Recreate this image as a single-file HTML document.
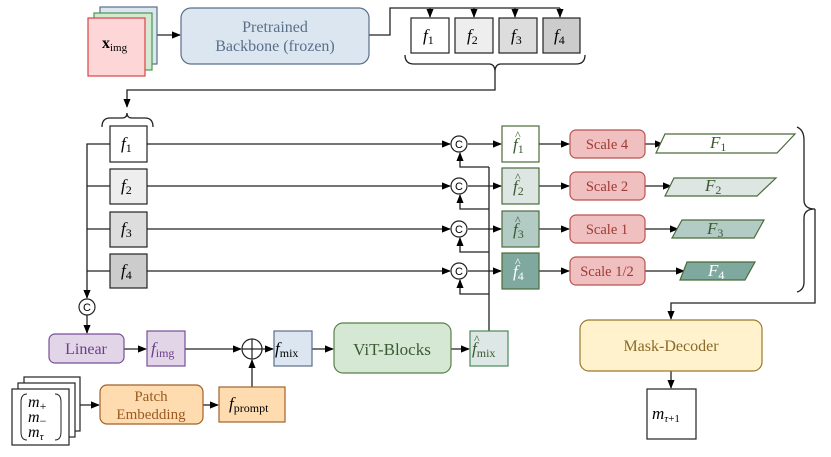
<!DOCTYPE html>
<html><head><meta charset="utf-8"><style>
body{margin:0;background:#fff}
svg{display:block}
svg text{font-family:"Liberation Serif","DejaVu Serif",serif}
svg text.s{font-family:"Liberation Sans",sans-serif}
.i{font-style:italic}
</style></head><body>
<svg width="831" height="457" viewBox="0 0 831 457" xmlns="http://www.w3.org/2000/svg" font-family="Liberation Serif, serif">
<defs>
<marker id="a" viewBox="0 0 10 10" refX="9" refY="5" markerWidth="7" markerHeight="7" orient="auto-start-reverse"><path d="M0,1L10,5L0,9z" fill="#000"/></marker>
</defs>
<g fill="none" stroke="#222" stroke-width="1.3">
<line x1="157" y1="35" x2="180" y2="35" marker-end="url(#a)"/>
<polyline points="369,35 390,35 390,8 560,8"/>
<line x1="430" y1="8" x2="430" y2="17" marker-end="url(#a)"/>
<line x1="474" y1="8" x2="474" y2="17" marker-end="url(#a)"/>
<line x1="515" y1="8" x2="515" y2="17" marker-end="url(#a)"/>
<line x1="560" y1="8" x2="560" y2="17" marker-end="url(#a)"/>
<path d="M405,55 Q405,64 414,64 L489,64 Q495,64 495,72 Q495,64 501,64 L576,64 Q585,64 585,55"/>
<polyline points="495,72 495,90 127,90 127,107" marker-end="url(#a)"/>
<path d="M102,127 Q102,118 110,118 L122,118 Q127,118 127,113 Q127,118 132,118 L145,118 Q153,118 153,127"/>
<polyline points="110,144 87,144 87,298" marker-end="url(#a)"/>
<line x1="87" y1="186" x2="110" y2="186"/>
<line x1="87" y1="229" x2="110" y2="229"/>
<line x1="87" y1="271" x2="110" y2="271"/>
<line x1="87" y1="315" x2="87" y2="333" marker-end="url(#a)"/>
<line x1="147" y1="144" x2="450" y2="144" marker-end="url(#a)"/>
<line x1="147" y1="186" x2="450" y2="186" marker-end="url(#a)"/>
<line x1="147" y1="229" x2="450" y2="229" marker-end="url(#a)"/>
<line x1="147" y1="271" x2="450" y2="271" marker-end="url(#a)"/>
<line x1="468" y1="144" x2="501" y2="144" marker-end="url(#a)"/>
<line x1="468" y1="186" x2="501" y2="186" marker-end="url(#a)"/>
<line x1="468" y1="229" x2="501" y2="229" marker-end="url(#a)"/>
<line x1="468" y1="271" x2="501" y2="271" marker-end="url(#a)"/>
<line x1="489" y1="167" x2="489" y2="331"/>
<polyline points="489,167 460,167 460,153" marker-end="url(#a)"/>
<polyline points="489,209 460,209 460,195" marker-end="url(#a)"/>
<polyline points="489,252 460,252 460,238" marker-end="url(#a)"/>
<polyline points="489,294 460,294 460,280" marker-end="url(#a)"/>
<line x1="539" y1="144" x2="569" y2="144" marker-end="url(#a)"/>
<line x1="539" y1="186" x2="569" y2="186" marker-end="url(#a)"/>
<line x1="539" y1="229" x2="569" y2="229" marker-end="url(#a)"/>
<line x1="539" y1="271" x2="569" y2="271" marker-end="url(#a)"/>
<line x1="645" y1="144" x2="663" y2="144" marker-end="url(#a)"/>
<line x1="645" y1="186" x2="671" y2="186" marker-end="url(#a)"/>
<line x1="645" y1="229" x2="678" y2="229" marker-end="url(#a)"/>
<line x1="645" y1="271" x2="684" y2="271" marker-end="url(#a)"/>
<path d="M797,127 Q804,130 804,140 L804,200 Q804,209 815,209 Q804,209 804,218 L804,282 Q804,290 797,292"/>
<polyline points="815,209 815,303 671,303 671,319" marker-end="url(#a)"/>
<line x1="671" y1="371" x2="671" y2="388" marker-end="url(#a)"/>
<line x1="124" y1="349" x2="146" y2="349" marker-end="url(#a)"/>
<line x1="185" y1="349" x2="241" y2="349" marker-end="url(#a)"/>
<line x1="262" y1="349" x2="273" y2="349" marker-end="url(#a)"/>
<line x1="312" y1="349" x2="333" y2="349" marker-end="url(#a)"/>
<line x1="451" y1="349" x2="469" y2="349" marker-end="url(#a)"/>
<line x1="80" y1="405" x2="99" y2="405" marker-end="url(#a)"/>
<line x1="203" y1="405" x2="218" y2="405" marker-end="url(#a)"/>
<line x1="252" y1="387" x2="252" y2="360" marker-end="url(#a)"/>
</g>
<rect x="100" y="7" width="57" height="57" fill="#dce6f0" stroke="#5a6f8a" stroke-width="1.2"/>
<rect x="94" y="13" width="58" height="57" fill="#d5e8d4" stroke="#4a9a4a" stroke-width="1.2"/>
<rect x="88" y="18" width="57" height="58" fill="#fdd7d7" stroke="#d94444" stroke-width="1.2"/>
<text x="102" y="48" font-size="16" font-weight="bold">x<tspan font-size="11" dy="3" font-weight="normal">img</tspan></text>
<rect x="181" y="8" width="188" height="56" rx="10" fill="#dce6f0" stroke="#5a6f8a" stroke-width="1.2"/>
<text x="275" y="32" font-size="16" fill="#5a6f8a" text-anchor="middle">Pretrained</text>
<text x="275" y="51" font-size="16" fill="#5a6f8a" text-anchor="middle">Backbone (frozen)</text>
<g stroke="#222" stroke-width="1.2">
<rect x="411" y="18" width="38" height="35" fill="#fff"/>
<rect x="455" y="18" width="38" height="35" fill="#eee"/>
<rect x="499" y="18" width="38" height="35" fill="#ddd"/>
<rect x="543" y="18" width="37" height="35" fill="#ccc"/>
<rect x="110" y="126" width="37" height="36" fill="#fff"/>
<rect x="110" y="169" width="37" height="35" fill="#eee"/>
<rect x="110" y="212" width="37" height="35" fill="#ddd"/>
<rect x="110" y="254" width="37" height="34" fill="#ccc"/>
</g>
<g font-size="17">
<text x="423" y="41" class="i">f<tspan font-size="12" dy="3" font-style="normal">1</tspan></text>
<text x="467" y="41" class="i">f<tspan font-size="12" dy="3" font-style="normal">2</tspan></text>
<text x="511" y="41" class="i">f<tspan font-size="12" dy="3" font-style="normal">3</tspan></text>
<text x="554" y="41" class="i">f<tspan font-size="12" dy="3" font-style="normal">4</tspan></text>
<text x="121" y="149" class="i">f<tspan font-size="12" dy="3" font-style="normal">1</tspan></text>
<text x="121" y="191" class="i">f<tspan font-size="12" dy="3" font-style="normal">2</tspan></text>
<text x="121" y="234" class="i">f<tspan font-size="12" dy="3" font-style="normal">3</tspan></text>
<text x="121" y="276" class="i">f<tspan font-size="12" dy="3" font-style="normal">4</tspan></text>
</g>
<g fill="#fff" stroke="#222" stroke-width="1.2">
<circle cx="459" cy="144" r="8"/><circle cx="459" cy="186" r="8"/><circle cx="459" cy="229" r="8"/><circle cx="459" cy="271" r="8"/><circle cx="87" cy="307" r="8"/>
<circle cx="252" cy="349" r="10"/>
</g>
<path d="M242,349H262M252,339V359" stroke="#222" stroke-width="1.2"/>
<g font-size="11" text-anchor="middle">
<text class="s" x="459" y="148">C</text><text class="s" x="459" y="190">C</text><text class="s" x="459" y="233">C</text><text class="s" x="459" y="275">C</text><text class="s" x="87" y="311">C</text>
</g>
<g stroke="#4a6b3a" stroke-width="1.2">
<rect x="502" y="126" width="37" height="36" fill="#fff"/>
<rect x="502" y="168" width="37" height="36" fill="#dde6e3"/>
<rect x="502" y="211" width="37" height="36" fill="#b3cbc5"/>
<rect x="502" y="253" width="37" height="36" fill="#7fa99e"/>
<polygon points="665,134 795,134 777,153 656,153" fill="#fff"/>
<polygon points="674,178 776,178 757,196 665,196" fill="#dde6e3"/>
<polygon points="682,220 764,220 754,238 672,238" fill="#b3cbc5"/>
<polygon points="687,262 755,262 745,280 680,280" fill="#7fa99e"/>
</g>
<g font-size="17" fill="#3c5a32">
<text x="513" y="150" class="i">f<tspan font-size="12" dy="3" font-style="normal">1</tspan></text><text x="515" y="139" font-size="12">^</text>
<text x="513" y="192" class="i">f<tspan font-size="12" dy="3" font-style="normal">2</tspan></text><text x="515" y="181" font-size="12">^</text>
<text x="513" y="235" class="i">f<tspan font-size="12" dy="3" font-style="normal">3</tspan></text><text x="515" y="224" font-size="12">^</text>
<g fill="#fff"><text x="513" y="277" class="i">f<tspan font-size="12" dy="3" font-style="normal">4</tspan></text><text x="515" y="266" font-size="12">^</text></g>
<text x="710" y="148" class="i">F<tspan font-size="12" dy="3" font-style="normal">1</tspan></text>
<text x="705" y="191" class="i">F<tspan font-size="12" dy="3" font-style="normal">2</tspan></text>
<text x="707" y="234" class="i">F<tspan font-size="12" dy="3" font-style="normal">3</tspan></text>
<text x="708" y="276" class="i" fill="#fff">F<tspan font-size="12" dy="3" font-style="normal">4</tspan></text>
</g>
<g fill="#f0c0c0" stroke="#b85450" stroke-width="1.2">
<rect x="570" y="130" width="75" height="28" rx="6"/>
<rect x="570" y="172" width="75" height="28" rx="6"/>
<rect x="570" y="215" width="75" height="28" rx="6"/>
<rect x="570" y="257" width="75" height="28" rx="6"/>
</g>
<g font-size="14.5" fill="#a03a36" text-anchor="middle">
<text x="607" y="149">Scale 4</text><text x="607" y="191">Scale 2</text><text x="607" y="234">Scale 1</text><text x="607" y="276">Scale 1/2</text>
</g>
<rect x="580" y="320" width="182" height="51" rx="9" fill="#fff2cc" stroke="#9a7a2a" stroke-width="1.2"/>
<text x="671" y="351" font-size="16" fill="#8a6a2a" text-anchor="middle">Mask-Decoder</text>
<rect x="647" y="389" width="49" height="50" fill="#fff" stroke="#222" stroke-width="1.2"/>
<text x="652" y="419" font-size="17" class="i">m<tspan font-size="11" dy="3">τ</tspan><tspan font-size="11" font-style="normal">+1</tspan></text>
<rect x="49" y="334" width="75" height="29" rx="6" fill="#e1d5e7" stroke="#7a4f9a" stroke-width="1.2"/>
<text x="86" y="354" font-size="16" fill="#6a3f8a" text-anchor="middle">Linear</text>
<rect x="147" y="331" width="38" height="35" fill="#e1d5e7" stroke="#7a4f9a" stroke-width="1.2"/>
<text x="151" y="354" font-size="17" class="i" fill="#6a3f8a">f<tspan font-size="12" dy="3" font-style="normal">img</tspan></text>
<rect x="274" y="331" width="38" height="35" fill="#dce6f0" stroke="#5a6f8a" stroke-width="1.2"/>
<text x="275" y="354" font-size="17" class="i">f<tspan font-size="12" dy="3" font-style="normal">mix</tspan></text>
<rect x="334" y="323" width="117" height="50" rx="9" fill="#d5e8d4" stroke="#5a7f4a" stroke-width="1.2"/>
<text x="392" y="355" font-size="17" fill="#3c5a32" text-anchor="middle">ViT-Blocks</text>
<rect x="470" y="331" width="38" height="35" fill="#dde7e5" stroke="#4a8a5a" stroke-width="1.2"/>
<text x="472" y="354" font-size="17" class="i" fill="#3c5a32">f<tspan font-size="12" dy="3" font-style="normal">mix</tspan></text><text x="474" y="343" font-size="12" fill="#3c5a32">^</text>
<g fill="#fff" stroke="#222" stroke-width="1.2">
<rect x="24" y="377" width="56" height="54"/>
<rect x="18" y="383" width="57" height="54"/>
<rect x="12" y="389" width="57" height="56"/>
</g>
<path d="M27,394 Q21,394 21,402 L21,432 Q21,440 27,440 M55,394 Q61,394 61,402 L61,432 Q61,440 55,440" fill="none" stroke="#222" stroke-width="1"/>
<g font-size="16"><text x="28" y="407" class="i">m<tspan font-size="12" dy="3" font-style="normal">+</tspan></text>
<text x="28" y="422" class="i">m<tspan font-size="12" dy="3" font-style="normal">−</tspan></text>
<text x="28" y="437" class="i">m<tspan font-size="11" dy="3">τ</tspan></text></g>
<rect x="100" y="385" width="103" height="39" rx="7" fill="#ffdcb0" stroke="#a0622a" stroke-width="1.2"/>
<text x="151" y="401" font-size="15" fill="#9a5a22" text-anchor="middle">Patch</text>
<text x="151" y="419" font-size="15" fill="#9a5a22" text-anchor="middle">Embedding</text>
<rect x="219" y="387" width="66" height="35" fill="#ffdcb0" stroke="#a0622a" stroke-width="1.2"/>
<text x="229" y="409" font-size="17" class="i">f<tspan font-size="12" dy="3" font-style="normal">prompt</tspan></text>
</svg>
</body></html>
